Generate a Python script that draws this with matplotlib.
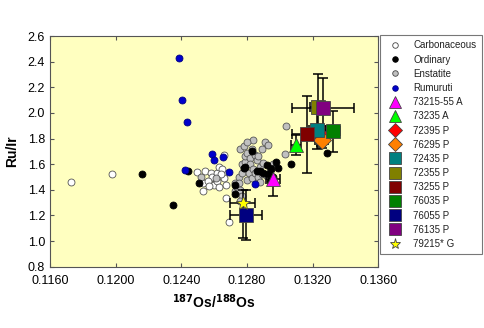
import matplotlib
matplotlib.use("Agg")
import matplotlib.pyplot as plt
from matplotlib.lines import Line2D

plt.rcParams['font.family'] = ['Liberation Sans', 'DejaVu Sans']

# ---------------- data ----------------
carb_x = [0.1173, 0.1198, 0.12495, 0.12545, 0.12535, 0.1253, 0.1258, 0.1260, 0.1259, 0.1261,
          0.1260, 0.1262, 0.1263, 0.1266, 0.1267, 0.1266, 0.1265, 0.1267, 0.1269, 0.1256,
          0.1262, 0.1264, 0.1257, 0.1263]
carb_y = [1.463, 1.526, 1.54, 1.547, 1.39, 1.455, 1.53, 1.49, 1.50, 1.45,
          1.44, 1.53, 1.58, 1.49, 1.44, 1.67, 1.56, 1.334, 1.151, 1.47,
          1.47, 1.52, 1.43, 1.42]

ord_x = [0.1216, 0.1235, 0.1244, 0.1251, 0.1273, 0.1273, 0.1278, 0.1283, 0.1279, 0.1288,
         0.1290, 0.1292, 0.1293, 0.1295, 0.1296, 0.1298, 0.1307, 0.1329, 0.1286, 0.1299,
         0.1294]
ord_y = [1.527, 1.28, 1.55, 1.455, 1.44, 1.37, 1.57, 1.70, 1.58, 1.55,
         1.53, 1.59, 1.52, 1.56, 1.50, 1.62, 1.60, 1.69, 1.55, 1.57,
         1.47]

ens_x = [0.1252, 0.1261, 0.1273, 0.1273, 0.1274, 0.1275, 0.1275, 0.1276, 0.1276, 0.1277,
         0.1277, 0.1278, 0.1278, 0.1279, 0.1279, 0.1280, 0.1280, 0.1281, 0.1282, 0.1282,
         0.1283, 0.1283, 0.1284, 0.1284, 0.1285, 0.1285, 0.1286, 0.1287, 0.1287, 0.1288,
         0.1289, 0.1289, 0.1290, 0.1291, 0.1292, 0.1293, 0.1294, 0.1296, 0.1303, 0.1304,
         0.1280, 0.1277, 0.1276, 0.1288]
ens_y = [1.50, 1.49, 1.45, 1.39, 1.42, 1.50, 1.45, 1.40, 1.72, 1.60,
         1.53, 1.57, 1.74, 1.62, 1.66, 1.69, 1.48, 1.53, 1.65, 1.60,
         1.49, 1.72, 1.79, 1.56, 1.53, 1.67, 1.63, 1.66, 1.50, 1.58,
         1.72, 1.52, 1.61, 1.77, 1.51, 1.75, 1.55, 1.60, 1.68, 1.90,
         1.77, 1.35, 1.31, 1.46]

rum_x = [0.12388, 0.12404, 0.12434, 0.1242, 0.1259, 0.1260, 0.12657, 0.1269, 0.1285]
rum_y = [2.431, 2.098, 1.929, 1.557, 1.683, 1.633, 1.654, 1.54, 1.445]

lunar_names = ['73215-55 A', '73235 A', '72395 P', '76295 P', '72435 P', '72355 P',
               '73255 P', '76035 P', '76055 P', '76135 P', '79215* G']
lunar_x = [0.12958, 0.1310, 0.1325, 0.13257, 0.1323, 0.13235, 0.13169, 0.13322, 0.12795, 0.13263, 0.12775]
lunar_y = [1.482, 1.749, 1.82, 1.79, 1.87, 2.045, 1.835, 1.858, 1.203, 2.040, 1.30]
lunar_xerr = [0.00043, 0.0003, 0.0004, 0.0004, 0.0005, 0.0005, 0.00095, 0.00045, 0.00098, 0.0019, 0.00076]
lunar_yerr_lo = [0.13, 0.08, 0.08, 0.06, 0.15, 0.26, 0.30, 0.16, 0.195, 0.23, 0.28]
lunar_yerr_hi = [0.10, 0.08, 0.08, 0.06, 0.15, 0.26, 0.30, 0.16, 0.195, 0.23, 0.10]
lunar_marker = ['^', '^', 'D', 'D', 's', 's', 's', 's', 's', 's', '*']
lunar_color = ['#FF00FF', '#00FF00', '#FF0000', '#FF8000', '#008080', '#808000',
               '#800000', '#008000', '#000080', '#800080', '#FFFF00']
lunar_size = [10, 10, 9, 9, 10, 10, 10, 10, 10, 10, 10]

# ---------------- plot ----------------
fig = plt.figure(figsize=(4.84, 3.28), dpi=100)
ax = fig.add_axes([0.1033, 0.187, 0.678, 0.703])
ax.set_facecolor('#FFFFC0')

ms_small = 5
ax.plot(carb_x, carb_y, 'o', ms=ms_small, mfc='white', mec='#555555', mew=0.6, zorder=3)
ax.plot(ens_x, ens_y, 'o', ms=ms_small, mfc='#C0C0C0', mec='#555555', mew=0.6, zorder=3)
ax.plot(ord_x, ord_y, 'o', ms=ms_small, mfc='black', mec='black', mew=0.6, zorder=3)
ax.plot(rum_x, rum_y, 'o', ms=ms_small, mfc='#0000CC', mec='#000080', mew=0.6, zorder=3)

for i in range(len(lunar_names)):
    ax.errorbar(lunar_x[i], lunar_y[i], xerr=lunar_xerr[i],
                yerr=[[lunar_yerr_lo[i]], [lunar_yerr_hi[i]]],
                fmt='none', ecolor='black', elinewidth=1.1, capsize=3.5, capthick=1.1, zorder=4)
    ax.plot(lunar_x[i], lunar_y[i], lunar_marker[i], ms=lunar_size[i],
            mfc=lunar_color[i], mec='#444444', mew=0.6, zorder=5)

ax.set_xlim(0.1160, 0.1360)
ax.set_ylim(0.8, 2.6)
ax.set_xticks([0.1160, 0.1200, 0.1240, 0.1280, 0.1320, 0.1360])
ax.set_xticklabels(['0.1160', '0.1200', '0.1240', '0.1280', '0.1320', '0.1360'])
ax.set_yticks([0.8, 1.0, 1.2, 1.4, 1.6, 1.8, 2.0, 2.2, 2.4, 2.6])
ax.set_yticklabels(['0.8', '1.0', '1.2', '1.4', '1.6', '1.8', '2.0', '2.2', '2.4', '2.6'])
ax.tick_params(direction='in', top=True, right=True, labelsize=9, length=3, color='#555555')
ax.tick_params(axis='x', pad=6)
for s in ax.spines.values():
    s.set_color('#555555')
    s.set_linewidth(0.8)

ax.set_ylabel('Ru/Ir', fontsize=10, fontweight='bold', labelpad=6)
ax.set_xlabel(r'$\mathbf{^{187}}$Os/$\mathbf{^{188}}$Os', fontsize=10, fontweight='bold', labelpad=4)

handles = [
    Line2D([], [], ls='none', marker='o', ms=4, mfc='white', mec='#444444', mew=0.6),
    Line2D([], [], ls='none', marker='o', ms=4, mfc='black', mec='black', mew=0.6),
    Line2D([], [], ls='none', marker='o', ms=4, mfc='#C0C0C0', mec='#444444', mew=0.6),
    Line2D([], [], ls='none', marker='o', ms=4, mfc='#0000CC', mec='#000080', mew=0.6),
]
labels = ['Carbonaceous', 'Ordinary', 'Enstatite', 'Rumuruti']
for i in range(len(lunar_names)):
    handles.append(Line2D([], [], ls='none', marker=lunar_marker[i], ms=lunar_size[i] - 2,
                          mfc=lunar_color[i], mec='#444444', mew=0.6))
    labels.append(lunar_names[i])

leg = fig.legend(handles, labels, loc='upper left', bbox_to_anchor=(0.785, 0.893),
                 fontsize=7, frameon=True, fancybox=False, edgecolor='#555555',
                 handletextpad=0.9, labelspacing=0.43, borderpad=0.55, handlelength=2.0,
                 borderaxespad=0.0)
leg.get_frame().set_linewidth(0.8)
for t in leg.get_texts():
    t.set_color('#222222')

fig.savefig('out.png', dpi=100)
